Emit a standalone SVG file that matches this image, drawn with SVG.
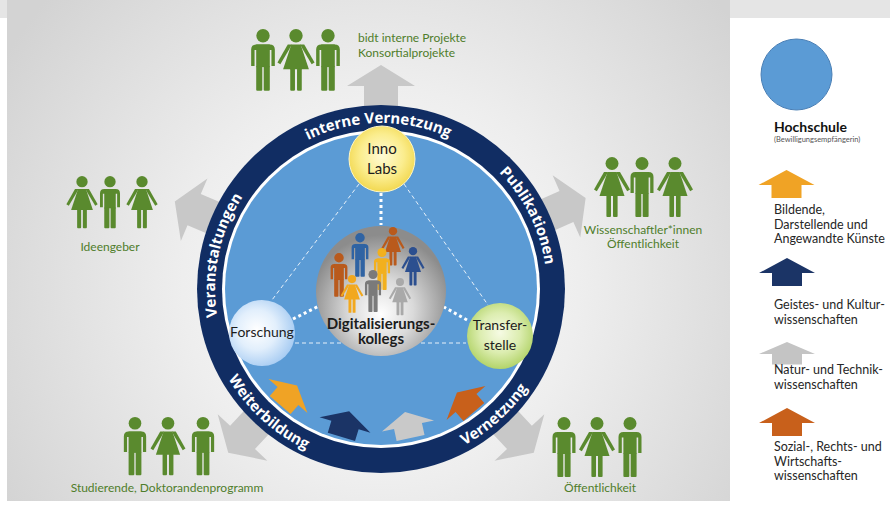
<svg xmlns="http://www.w3.org/2000/svg" width="890" height="506" viewBox="0 0 890 506">
  <defs>
    <style>
      .ringtxt { font-family: "Open Sans", "Liberation Sans", sans-serif; font-weight: 700; font-size: 15px; fill: #ffffff; }
      .grp { font-family: Lato, "Liberation Sans", sans-serif; font-size: 12px; fill: #4f7d2b; }
      .leg { font-family: Lato, "Liberation Sans", sans-serif; font-size: 12.5px; fill: #262626; }
      .leg-title { font-family: Lato, "Liberation Sans", sans-serif; font-size: 14px; font-weight: 700; fill: #111111; }
      .leg-note { font-family: Lato, "Liberation Sans", sans-serif; font-size: 7.5px; fill: #555555; }
      .node { font-family: Lato, "Liberation Sans", sans-serif; font-size: 14px; fill: #1c1c1c; text-anchor: middle; }
      .node-lg { font-size: 15px; }
      .node-bold { font-size: 15px; font-weight: 700; }
      .thin { stroke: #ffffff; stroke-width: 1; stroke-dasharray: 4 3; opacity: 0.85; fill: none; }
      .dots { stroke: #ffffff; stroke-width: 3; stroke-dasharray: 3 3; fill: none; }
      .green { fill: #5a8a2e; }
    </style>
    <radialGradient id="bgGrad" gradientUnits="userSpaceOnUse" cx="381" cy="285" r="440">
      <stop offset="0" stop-color="#ffffff"/>
      <stop offset="0.45" stop-color="#eeeeee"/>
      <stop offset="1" stop-color="#d3d3d3"/>
    </radialGradient>
    <radialGradient id="sphereGrad" cx="0.5" cy="0.62" r="0.55" fx="0.5" fy="0.68">
      <stop offset="0" stop-color="#ffffff"/>
      <stop offset="0.45" stop-color="#dadada"/>
      <stop offset="1" stop-color="#8c8c8c"/>
    </radialGradient>
    <radialGradient id="yellowGrad" cx="0.5" cy="0.45" r="0.55">
      <stop offset="0" stop-color="#fffbd6"/>
      <stop offset="0.6" stop-color="#fbed8e"/>
      <stop offset="1" stop-color="#f2d850"/>
    </radialGradient>
    <radialGradient id="blueGrad" cx="0.42" cy="0.45" r="0.6">
      <stop offset="0" stop-color="#ffffff"/>
      <stop offset="0.5" stop-color="#e2effc"/>
      <stop offset="1" stop-color="#a6cbf2"/>
    </radialGradient>
    <radialGradient id="greenGrad" cx="0.5" cy="0.45" r="0.55">
      <stop offset="0" stop-color="#f6fbe4"/>
      <stop offset="0.55" stop-color="#dcedb0"/>
      <stop offset="1" stop-color="#b3d46a"/>
    </radialGradient>

    <!-- pictogram: man, 60 units tall, top at y=0 -->
    <g id="man">
      <circle cx="0" cy="6.5" r="6.5"/>
      <path d="M-11.5,36 V20 Q-11.5,15 -6.5,15 H6.5 Q11.5,15 11.5,20 V36 H8.2 V20.5 H-8.2 V36 Z"/>
      <rect x="-6.6" y="15" width="13.2" height="22"/>
      <rect x="-6.6" y="36" width="5.9" height="24" rx="1"/>
      <rect x="0.7" y="36" width="5.9" height="24" rx="1"/>
    </g>
    <!-- pictogram: woman, 60 units tall, top at y=0 -->
    <g id="woman">
      <circle cx="0" cy="6.5" r="6.5"/>
      <path d="M-4.5,15 H4.5 L12.5,39 H-12.5 Z"/>
      <path d="M-4,15 H-8 L-18,32.5 L-15.2,34.2 L-6.4,19.5 Z"/>
      <path d="M4,15 H8 L18,32.5 L15.2,34.2 L6.4,19.5 Z"/>
      <rect x="-5.6" y="38" width="4.6" height="22" rx="1"/>
      <rect x="1" y="38" width="4.6" height="22" rx="1"/>
    </g>
    <!-- block arrow, base of the head at the origin, pointing up -->
    <path id="capArrow" d="M-28,0 L0,-15 L28,0 H15 V13 H-15 V0 Z"/>
    <!-- large outward arrow, measured from the circle centre -->
    <path id="outArrow" d="M0,-224 L34,-203 H17 V-150 H-17 V-203 H-34 Z"/>
    <path id="arcTop" d="M235.8,208.5 A166,166 0 0 1 523.3,203.5"/>
    <path id="arcLeft" d="M250.2,391.2 A166,166 0 0 1 303.1,142.4"/>
    <path id="arcRight" d="M419.7,127.6 A166,166 0 0 1 533.2,355.2"/>
    <path id="arcBottomLeft" d="M204.1,281.9 A177,177 0 0 0 404.7,464.4"/>
    <path id="arcBottomRight" d="M356.4,464.3 A177,177 0 0 0 557.9,282.8"/>
  </defs>

  <!-- backdrop -->
  <rect x="0" y="0" width="890" height="506" fill="#ffffff"/>
  <rect x="0" y="0" width="890" height="18" fill="#e5e5e5"/>
  <rect x="7" y="0" width="723" height="501" fill="url(#bgGrad)"/>
  <rect x="730" y="18" width="160" height="488" fill="#ffffff"/>

  <!-- outward arrows behind the ring -->
  <g id="outward-arrows" fill="#c8c8c8">
    <use href="#outArrow" transform="translate(381,289)"/>
    <use href="#outArrow" transform="translate(381,289) rotate(-67)"/>
    <use href="#outArrow" transform="translate(381,289) rotate(66)"/>
    <use href="#outArrow" transform="translate(381,289) rotate(-137)"/>
    <use href="#outArrow" transform="translate(381,289) rotate(137)"/>
  </g>

  <!-- Hochschule: ring and disk -->
  <g id="hochschule">
    <circle cx="381" cy="289" r="184" fill="#112d63"/>
    <circle cx="381" cy="289" r="159" fill="#ffffff"/>
    <circle cx="381" cy="289" r="156" fill="#5b9bd5"/>
    <text class="ringtxt"><textPath href="#arcTop" startOffset="50%" text-anchor="middle">interne Vernetzung</textPath></text>
    <text class="ringtxt"><textPath href="#arcLeft" startOffset="50%" text-anchor="middle">Veranstaltungen</textPath></text>
    <text class="ringtxt"><textPath href="#arcRight" startOffset="50%" text-anchor="middle">Publikationen</textPath></text>
    <text class="ringtxt"><textPath href="#arcBottomLeft" startOffset="50%" text-anchor="middle">Weiterbildung</textPath></text>
    <text class="ringtxt"><textPath href="#arcBottomRight" startOffset="50%" text-anchor="middle">Vernetzung</textPath></text>
  </g>

  <!-- discipline arrows inside the disk -->
  <g id="disciplines">
    <use href="#capArrow" fill="#f0a325" transform="translate(288,396) rotate(41) scale(0.92)"/>
    <use href="#capArrow" fill="#1b3466" transform="translate(345,425) rotate(17) scale(0.95)"/>
    <use href="#capArrow" fill="#c9c9c9" transform="translate(408,426) rotate(-12) scale(0.95)"/>
    <use href="#capArrow" fill="#c8601b" transform="translate(466,403) rotate(-41) scale(0.92)"/>
  </g>

  <!-- links between the inner nodes -->
  <g id="connectors">
    <line class="thin" x1="359" y1="184" x2="272" y2="300"/>
    <line class="thin" x1="404" y1="184" x2="488" y2="305"/>
    <line class="thin" x1="295" y1="343" x2="466" y2="343"/>
    <line class="dots" x1="381" y1="193" x2="381" y2="225"/>
    <line class="dots" x1="293" y1="319" x2="319" y2="306"/>
    <line class="dots" x1="467" y1="320" x2="444" y2="307"/>
  </g>

  <g id="inno-labs">
    <circle cx="382" cy="159" r="33" fill="url(#yellowGrad)" stroke="#fff6c4" stroke-width="1"/>
    <text class="node node-lg" x="382" y="154">Inno</text>
    <text class="node node-lg" x="382" y="174">Labs</text>
  </g>

  <g id="forschung">
    <circle cx="262" cy="333" r="33" fill="url(#blueGrad)"/>
    <text class="node" x="262" y="337">Forschung</text>
  </g>

  <g id="transferstelle">
    <circle cx="500" cy="336" r="33" fill="url(#greenGrad)"/>
    <text class="node" x="500" y="330">Transfer-</text>
    <text class="node" x="500" y="350">stelle</text>
  </g>

  <g id="digitalisierungskollegs">
    <circle cx="381" cy="291" r="65" fill="url(#sphereGrad)"/>
    <use href="#woman" fill="#b95a1c" transform="translate(393,227) scale(0.64)"/>
    <use href="#man" fill="#2f63a3" transform="translate(360,233) scale(0.73)"/>
    <use href="#woman" fill="#2c4f8f" transform="translate(413,247) scale(0.64)"/>
    <use href="#man" fill="#f2b01e" transform="translate(382,248) scale(0.7)"/>
    <use href="#man" fill="#b95a1c" transform="translate(339,253) scale(0.73)"/>
    <use href="#man" fill="#7a7a7a" transform="translate(373,270) scale(0.7)"/>
    <use href="#woman" fill="#f2a81e" transform="translate(352,275) scale(0.63)"/>
    <use href="#woman" fill="#a9a9a9" transform="translate(400,278) scale(0.62)"/>
    <text class="node node-bold" x="381" y="329">Digitalisierungs-</text>
    <text class="node node-bold" x="381" y="343.5">kollegs</text>
  </g>

  <!-- stakeholder groups -->
  <g id="group-top" class="green">
    <use href="#man" transform="translate(263,29) scale(1.03)"/>
    <use href="#woman" transform="translate(296,29) scale(1.03)"/>
    <use href="#man" transform="translate(328,29) scale(1.03)"/>
    <text class="grp" x="358" y="42">bidt interne Projekte</text>
    <text class="grp" x="358" y="57">Konsortialprojekte</text>
  </g>

  <g id="group-left" class="green">
    <use href="#woman" transform="translate(82,176) scale(0.87)"/>
    <use href="#man" transform="translate(110,176) scale(0.87)"/>
    <use href="#woman" transform="translate(142,176) scale(0.87)"/>
    <text class="grp" x="110" y="251" text-anchor="middle">Ideengeber</text>
  </g>

  <g id="group-right" class="green">
    <use href="#woman" transform="translate(612,157) scale(1)"/>
    <use href="#man" transform="translate(642,157) scale(1)"/>
    <use href="#woman" transform="translate(675,157) scale(1)"/>
    <text class="grp" x="643" y="234" text-anchor="middle">Wissenschaftler*innen</text>
    <text class="grp" x="643" y="248" text-anchor="middle">Öffentlichkeit</text>
  </g>

  <g id="group-bottom-left" class="green">
    <use href="#man" transform="translate(135,417) scale(0.97)"/>
    <use href="#woman" transform="translate(168,417) scale(0.97)"/>
    <use href="#man" transform="translate(203,417) scale(0.97)"/>
    <text class="grp" x="167" y="492" text-anchor="middle">Studierende, Doktorandenprogramm</text>
  </g>

  <g id="group-bottom-right" class="green">
    <use href="#man" transform="translate(564,417) scale(1)"/>
    <use href="#woman" transform="translate(597,417) scale(1)"/>
    <use href="#man" transform="translate(630,417) scale(1)"/>
    <text class="grp" x="600" y="492" text-anchor="middle">Öffentlichkeit</text>
  </g>

  <!-- legend -->
  <g id="legend">
    <circle cx="796.5" cy="74.5" r="35.5" fill="#5b9bd5" stroke="#4a7fb5" stroke-width="1"/>
    <text class="leg-title" x="774" y="132">Hochschule</text>
    <text class="leg-note" x="774" y="142">(Bewilligungsempfängerin)</text>

    <use href="#capArrow" fill="#f0a325" transform="translate(786.5,185)"/>
    <text class="leg" x="774" y="214">Bildende,</text>
    <text class="leg" x="774" y="228.5">Darstellende und</text>
    <text class="leg" x="774" y="243">Angewandte Künste</text>

    <use href="#capArrow" fill="#1b3466" transform="translate(787,273)"/>
    <text class="leg" x="774" y="309">Geistes- und Kultur-</text>
    <text class="leg" x="774" y="324">wissenschaften</text>

    <use href="#capArrow" fill="#c4c4c4" transform="translate(787,354) scale(1,0.8)"/>
    <text class="leg" x="774" y="374">Natur- und Technik-</text>
    <text class="leg" x="774" y="388.5">wissenschaften</text>

    <use href="#capArrow" fill="#c8601b" transform="translate(787,423)"/>
    <text class="leg" x="774" y="451">Sozial-, Rechts- und</text>
    <text class="leg" x="774" y="465.5">Wirtschafts-</text>
    <text class="leg" x="774" y="480">wissenschaften</text>
  </g>
</svg>
